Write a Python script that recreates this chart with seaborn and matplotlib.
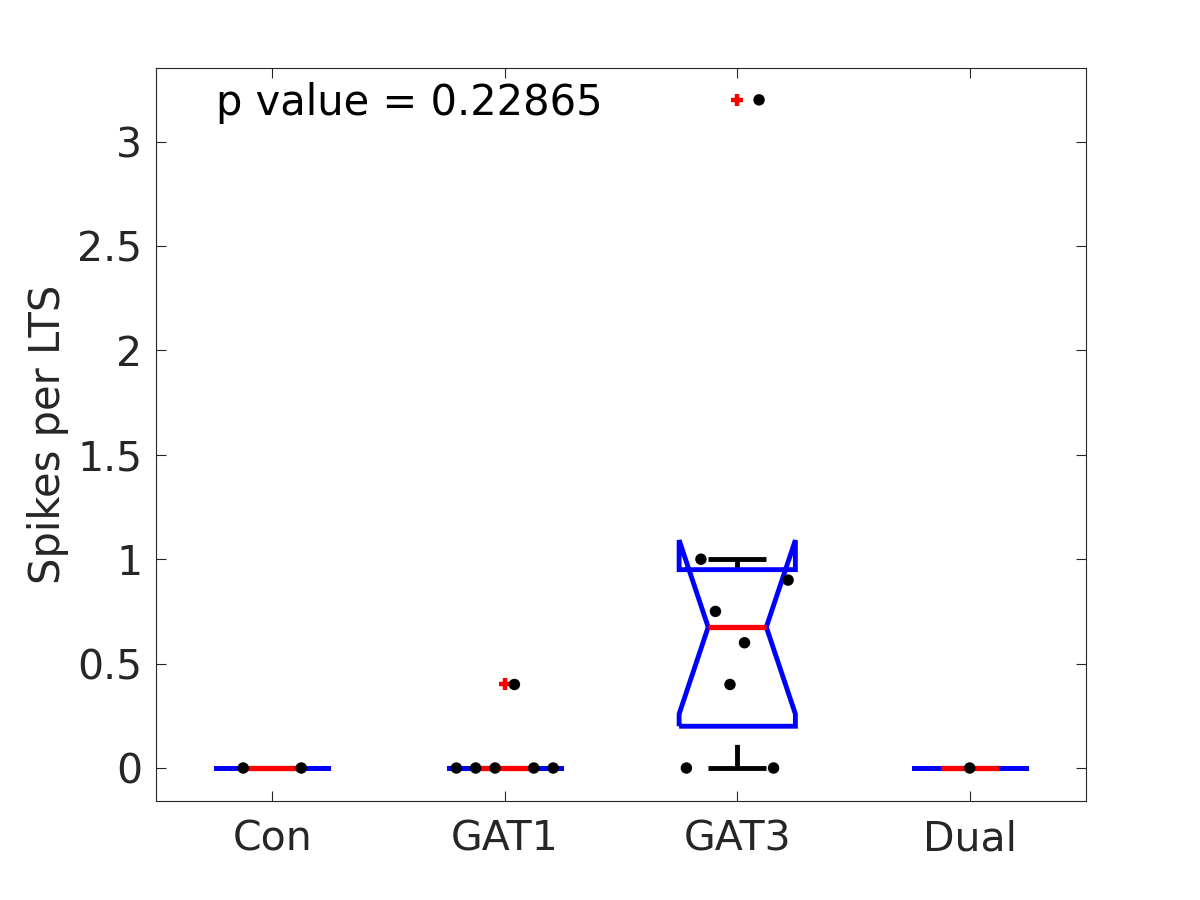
import numpy as np
import pandas as pd
import matplotlib
matplotlib.use("Agg")
import matplotlib.pyplot as plt
import seaborn as sns

# ---- data ----
groups = ["Con", "GAT1", "GAT3", "Dual"]
con_vals = [0.0, 0.0]
gat1_vals = [0.0, 0.0, 0.0, 0.4, 0.0, 0.0]
gat3_vals = [0.0, 1.0, 0.75, 0.4, 0.6, 3.2, 0.0, 0.9]
dual_vals = [0.0]
y_ticks = [0, 0.5, 1, 1.5, 2, 2.5, 3]
y_tick_labels = ["0", "0.5", "1", "1.5", "2", "2.5", "3"]
p_value_text = "p value = 0.22865"
y_label = "Spikes per LTS"

all_vals = [con_vals, gat1_vals, gat3_vals, dual_vals]

sns.set_style("ticks")
plt.rcParams["font.family"] = ["DejaVu Sans"]
plt.rcParams["lines.scale_dashes"] = False

fig = plt.figure(figsize=(12, 9), dpi=100)
ax = fig.add_axes([0.13, 0.11, 0.775, 0.815])

DARK = "#262626"
BW = 0.25      # box half width
NW = 0.125     # notch/median half width
LW_BOX = 3.5


def mprctile(v, p):
    v = np.sort(np.asarray(v, float))
    n = len(v)
    pos = p / 100.0 * n + 0.5
    if pos <= 1:
        return v[0]
    if pos >= n:
        return v[-1]
    i = int(np.floor(pos))
    f = pos - i
    return v[i - 1] + f * (v[i] - v[i - 1])


rows = []
for gi, (name, vals) in enumerate(zip(groups, all_vals)):
    x0 = gi + 1
    v = np.asarray(vals, float)
    n = len(v)
    med = np.median(v)
    q1 = mprctile(v, 25)
    q3 = mprctile(v, 75)
    iqr = q3 - q1
    nlo = med - 1.57 * iqr / np.sqrt(n)
    nhi = med + 1.57 * iqr / np.sqrt(n)
    upper_lim = q3 + 1.5 * iqr
    lower_lim = q1 - 1.5 * iqr
    inliers = v[(v >= lower_lim) & (v <= upper_lim)]
    outliers = v[(v < lower_lim) | (v > upper_lim)]
    uadj = inliers.max()
    ladj = inliers.min()

    # whiskers (dashed) and caps
    ax.plot([x0, x0], [ladj, q1], color="black", lw=LW_BOX,
            dashes=(17, 14), solid_capstyle="butt", zorder=2)
    ax.plot([x0, x0], [uadj, q3], color="black", lw=LW_BOX,
            dashes=(17, 14), solid_capstyle="butt", zorder=2)
    ax.plot([x0 - NW, x0 + NW], [uadj, uadj], color="black", lw=LW_BOX,
            solid_capstyle="butt", zorder=2)
    ax.plot([x0 - NW, x0 + NW], [ladj, ladj], color="black", lw=LW_BOX,
            solid_capstyle="butt", zorder=2)

    # notched box outline
    bx = [x0 - BW, x0 - BW, x0 - NW, x0 - BW, x0 - BW,
          x0 + BW, x0 + BW, x0 + NW, x0 + BW, x0 + BW, x0 - BW]
    by = [q1, nlo, med, nhi, q3, q3, nhi, med, nlo, q1, q1]
    ax.plot(bx, by, color="#0000ff", lw=LW_BOX, solid_joinstyle="miter",
            solid_capstyle="butt", zorder=3)

    # median
    ax.plot([x0 - NW, x0 + NW], [med, med], color="#ff0000", lw=LW_BOX + 0.3,
            solid_capstyle="butt", zorder=4)

    # outliers
    if len(outliers):
        ax.plot(np.full(len(outliers), x0), outliers, linestyle="none",
                marker="+", color="#ff0000", markersize=9, mew=3.2, zorder=4)

    # evenly spread data points
    for i, val in enumerate(vals):
        xo = x0 + (i - (n - 1) / 2.0) * (0.5 / n)
        rows.append({"x": xo, "y": val, "group": name})

df = pd.DataFrame(rows)
sns.scatterplot(data=df, x="x", y="y", color="black", s=68,
                edgecolor="none", legend=False, ax=ax, zorder=5)

ax.set_xlim(0.5, 4.5)
ax.set_ylim(-0.158, 3.355)
ax.set_xticks([1, 2, 3, 4])
ax.set_xticklabels(groups)
ax.set_yticks(y_ticks)
ax.set_yticklabels(y_tick_labels)
ax.set_xlabel("")
ax.set_ylabel(y_label, fontsize=30, color=DARK, labelpad=6)

ax.tick_params(axis="both", direction="in", length=7, width=0.8,
               colors=DARK, labelsize=29.5, top=True, right=True, pad=10)
ax.tick_params(axis="x", pad=13)
for sp in ax.spines.values():
    sp.set_visible(True)
    sp.set_color(DARK)
    sp.set_linewidth(0.8)

ax.text(0.0645, 0.951, p_value_text, transform=ax.transAxes,
        fontsize=30, color="black", ha="left", va="center")

fig.savefig("out.png", dpi=100)
